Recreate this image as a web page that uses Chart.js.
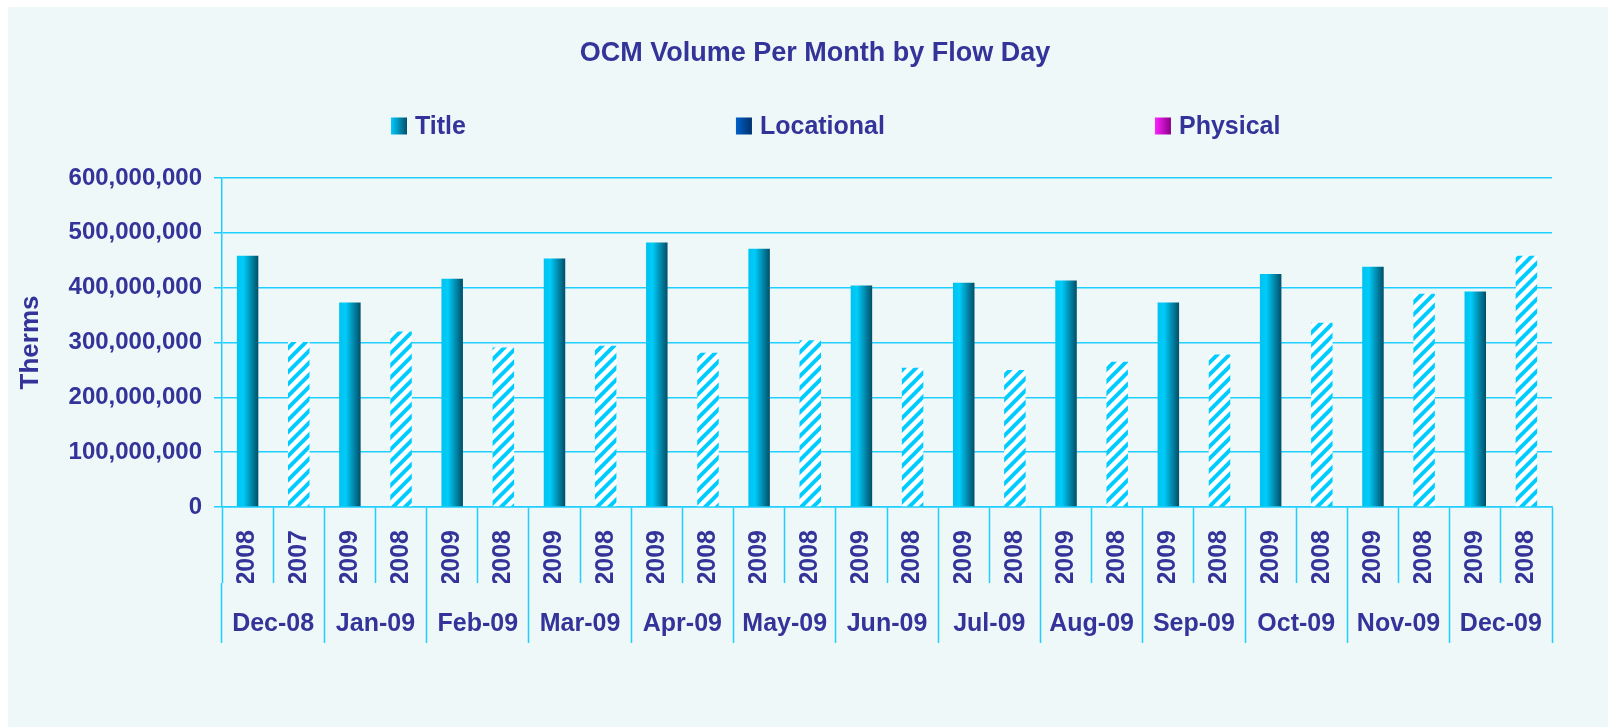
<!DOCTYPE html>
<html><head><meta charset="utf-8">
<script src="https://cdn.jsdelivr.net/npm/chart.js@4.4.1/dist/chart.umd.min.js"></script>
<style>
html,body{margin:0;padding:0;background:#fff;width:1608px;height:727px;overflow:hidden}
#panel{position:absolute;left:8px;top:7px;width:1600px;height:720px;background:#EEF8F8}
#wrap{position:absolute;left:0;top:0;width:1608px;height:727px}
</style></head><body>
<div id="panel"></div>
<div id="wrap"><canvas id="c" width="1608" height="727"></canvas></div>
<script>
const chartTitle = 'OCM Volume Per Month by Flow Day';
const yAxisTitle = 'Therms';
const months = ['Dec-08','Jan-09','Feb-09','Mar-09','Apr-09','May-09','Jun-09','Jul-09','Aug-09','Sep-09','Oct-09','Nov-09','Dec-09'];
const years = ['2008','2007','2009','2008','2009','2008','2009','2008','2009','2008','2009','2008','2009','2008',
               '2009','2008','2009','2008','2009','2008','2009','2008','2009','2008','2009','2008'];
const seriesNames = ['Title','Locational','Physical'];
const titleVolume = [458000000,301000000,373000000,320000000,416000000,291000000,453000000,294000000,
                     482000000,281000000,471000000,304000000,404000000,254000000,409000000,250000000,
                     413000000,265000000,373000000,278000000,425000000,336000000,438000000,389000000,
                     393000000,458000000];
const locationalVolume = [0,0,0,0,0,0,0,0,0,0,0,0,0,0,0,0,0,0,0,0,0,0,0,0,0,0];
const physicalVolume   = [0,0,0,0,0,0,0,0,0,0,0,0,0,0,0,0,0,0,0,0,0,0,0,0,0,0];
const yTicks = [0,100000000,200000000,300000000,400000000,500000000,600000000];

const FONT = "'Liberation Sans', Arial, Helvetica, sans-serif";
const TEXT = '#333399';
const CYAN = '#1ECFFF';
const BAR_PCT = 0.42;
const legendColors = [['#00CCFF','#00506A'],['#0060C8','#00306E'],['#FF22FF','#8A008A']];

const canvas = document.getElementById('c');
const cctx = canvas.getContext('2d');

function makeHatch() {
  const c = document.createElement('canvas'); c.width = 12; c.height = 12;
  const g = c.getContext('2d');
  g.fillStyle = '#FFFFFF'; g.fillRect(0, 0, 12, 12);
  g.strokeStyle = '#00CCFF'; g.lineWidth = 4;
  g.beginPath();
  g.moveTo(-3, 15); g.lineTo(15, -3);
  g.moveTo(-3, 3); g.lineTo(3, -3);
  g.moveTo(9, 15); g.lineTo(15, 9);
  g.stroke();
  return cctx.createPattern(c, 'repeat');
}
const hatch = makeHatch();

function titleFill(ctx) {
  const chart = ctx.chart;
  const xs = chart.scales && chart.scales.x;
  if (ctx.type !== 'data' || !chart.chartArea || !xs) return '#00B4DC';
  if (ctx.dataIndex % 2 === 1) return hatch;
  const cx = xs.getPixelForValue(ctx.dataIndex);
  const half = (xs.width / years.length) * BAR_PCT / 2;
  const g = chart.ctx.createLinearGradient(cx - half, 0, cx + half, 0);
  g.addColorStop(0, '#00C2F0');
  g.addColorStop(0.3, '#00CCFA');
  g.addColorStop(1, '#004E67');
  return g;
}

const legendRow = {
  id: 'legendRow',
  afterDraw(chart) {
    const ctx = chart.ctx;
    ctx.save();
    ctx.font = 'bold 25px ' + FONT;
    ctx.textBaseline = 'middle';
    let x = 391;
    const yc = 126, bw = 16, bh = 17;
    chart.data.datasets.forEach((ds, i) => {
      const g = ctx.createLinearGradient(x, 0, x + bw, 0);
      g.addColorStop(0, legendColors[i][0]);
      g.addColorStop(1, legendColors[i][1]);
      ctx.fillStyle = g;
      ctx.fillRect(x, yc - bh / 2, bw, bh);
      ctx.fillStyle = TEXT;
      const tx = x + bw + 8;
      ctx.fillText(ds.label, tx, yc + 1);
      x = tx + ctx.measureText(ds.label).width + 270;
    });
    ctx.restore();
  }
};

new Chart(cctx, {
  type: 'bar',
  data: {
    labels: years,
    datasets: [
      { label: seriesNames[0], data: titleVolume, backgroundColor: titleFill, borderWidth: 0 },
      { label: seriesNames[1], data: locationalVolume, backgroundColor: '#0050B0', borderWidth: 0 },
      { label: seriesNames[2], data: physicalVolume, backgroundColor: '#FF00FF', borderWidth: 0 }
    ]
  },
  options: {
    responsive: false,
    animation: false,
    events: [],
    layout: { padding: { left: 22, right: 0, top: 0, bottom: 85 } },
    datasets: { bar: { categoryPercentage: 1, barPercentage: BAR_PCT } },
    plugins: {
      legend: { display: false },
      tooltip: { enabled: false },
      title: {
        display: true, text: chartTitle, color: TEXT,
        font: { family: FONT, size: 27, weight: 'bold' },
        padding: { top: 37.5, bottom: 108 }
      }
    },
    scales: {
      x: {
        stacked: true,
        offset: true,
        grid: { display: true, offset: true, drawOnChartArea: false, drawTicks: true, tickLength: 76, tickColor: CYAN, tickWidth: 1.5, color: CYAN },
        border: { display: true, color: CYAN, width: 1.5 },
        ticks: { autoSkip: false, minRotation: 90, maxRotation: 90, padding: -53, color: TEXT, font: { family: FONT, size: 25, weight: 'bold' } },
        afterFit(s) { s.height = 76; }
      },
      x2: {
        type: 'category',
        labels: months,
        position: 'bottom',
        offset: true,
        grid: { display: true, offset: true, drawOnChartArea: false, drawTicks: true, tickLength: 60, tickColor: CYAN, tickWidth: 1.5, color: CYAN },
        border: { display: false },
        ticks: { autoSkip: false, maxRotation: 0, minRotation: 0, padding: -33.5, color: TEXT, font: { family: FONT, size: 25, weight: 'bold' } },
        afterFit(s) { s.height = 59; }
      },
      y: {
        stacked: true,
        min: 0, max: 600000000,
        grid: { color: CYAN, lineWidth: 1.5, drawTicks: true, tickLength: 8, tickColor: CYAN, tickWidth: 1.5 },
        border: { display: true, color: CYAN, width: 1.5 },
        afterBuildTicks(s) { s.ticks = yTicks.map(v => ({ value: v })); },
        ticks: { padding: 12, color: TEXT, font: { family: FONT, size: 24, weight: 'bold' },
                 callback: v => Number(v).toLocaleString('en-US') },
        title: { display: true, text: yAxisTitle, color: TEXT, font: { family: FONT, size: 26, weight: 'bold' }, padding: { top: -7, bottom: 0 } },
        afterFit(s) { s.width = 200; }
      },
      yRight: {
        type: 'linear', position: 'right', display: true,
        grid: { display: false }, border: { display: false },
        ticks: { display: false }, title: { display: false },
        afterFit(s) { s.width = 56; }
      }
    }
  },
  plugins: [legendRow]
});
</script>
</body></html>
